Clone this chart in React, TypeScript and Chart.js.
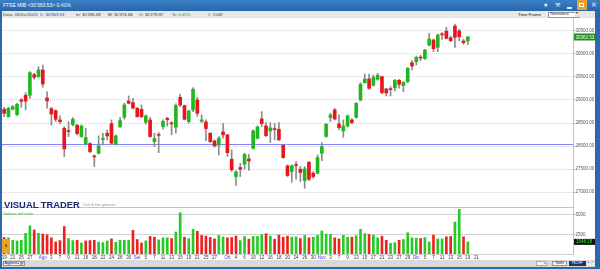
import React, { useEffect, useRef } from "react";
import { Chart, registerables } from "chart.js";

Chart.register(...registerables);

// ---------- DATA ----------
const dates = "19/07 20/07 21/07 24/07 25/07 26/07 27/07 28/07 31/07 01/08 02/08 03/08 04/08 07/08 08/08 09/08 10/08 11/08 14/08 16/08 17/08 18/08 21/08 22/08 23/08 24/08 25/08 28/08 29/08 30/08 31/08 01/09 04/09 05/09 06/09 07/09 08/09 11/09 12/09 13/09 14/09 15/09 18/09 19/09 20/09 21/09 22/09 25/09 26/09 27/09 28/09 29/09 02/10 03/10 04/10 05/10 06/10 09/10 10/10 11/10 12/10 13/10 16/10 17/10 18/10 19/10 20/10 23/10 24/10 25/10 26/10 27/10 30/10 31/10 01/11 02/11 03/11 06/11 07/11 08/11 09/11 10/11 13/11 14/11 15/11 16/11 17/11 20/11 21/11 22/11 23/11 24/11 27/11 28/11 29/11 30/11 01/12 04/12 05/12 06/12 07/12 08/12 11/12 12/12 13/12 14/12 15/12 18/12 19/12".split(" ");
const futureDates = ["20/12", "21/12"];
const totalSlots = 133;

const opens = [
  28797, 28639, 28797, 28682, 29000, 29100, 29100, 29548, 29504, 29649,
  29043, 28812, 28768, 28566, 28386, 28328, 28465, 28451, 28206, 28047,
  28054, 27787, 27845, 28141, 28278, 28487, 28040, 28422, 28624, 28978,
  28942, 28819, 28797, 28516, 28566, 28097, 28256, 28422, 28602, 28494,
  28408, 29057, 28877, 28530, 28783, 29000, 28537, 28523, 28278, 28112,
  28018, 28307, 28242, 27715, 27340, 27535, 27607, 27722, 27953, 28170,
  28588, 28436, 28328, 28372, 28364, 28018, 27571, 27448, 27585, 27499,
  27253, 27650, 27412, 27412, 27845, 28206, 28617, 28783, 28480, 28328,
  28436, 28566, 28624, 29000, 29374, 29454, 29317, 29447, 29504, 29237,
  29237, 29266, 29425, 29310, 29396, 29807, 29829, 29923, 29894, 30190,
  30298, 30139, 30421, 30493, 30348, 30601, 30493, 30276, 30279,
];
const highs = [
  28841, 28841, 28877, 28927, 29035, 29158, 29613, 29576, 29721, 29757,
  29180, 28841, 28783, 28653, 28422, 28530, 28617, 28473, 28458, 28386,
  28076, 27809, 28220, 28278, 28350, 28566, 28242, 28624, 28927, 29086,
  29035, 28841, 28891, 28675, 28624, 28278, 28292, 28566, 28624, 28530,
  28913, 29129, 28891, 28783, 29266, 29057, 28675, 28566, 28292, 28134,
  28206, 28494, 28256, 27917, 27470, 27629, 27845, 27823, 28350, 28436,
  28747, 28509, 28509, 28494, 28509, 28040, 27592, 27592, 27665, 27556,
  27556, 27665, 27448, 27809, 28076, 28494, 28711, 28819, 28675, 28566,
  28675, 28595, 28942, 29374, 29562, 29562, 29540, 29576, 29519, 29252,
  29288, 29447, 29447, 29396, 29706, 29851, 29952, 29966, 30096, 30442,
  30320, 30428, 30457, 30572, 30385, 30644, 30529, 30312, 30375,
];
const lows = [
  28639, 28624, 28783, 28660, 28841, 28783, 29035, 29447, 29490, 29273,
  28819, 28458, 28530, 28480, 27773, 28206, 28436, 28242, 28191, 28025,
  27859, 27556, 27830, 28025, 28134, 28047, 28025, 28400, 28581, 28913,
  28797, 28624, 28624, 28480, 28191, 27989, 27859, 28364, 28436, 28242,
  28278, 28855, 28566, 28494, 28747, 28639, 28509, 28119, 28076, 27975,
  27809, 28170, 27773, 27448, 27145, 27340, 27499, 27470, 27931, 28155,
  28422, 28206, 28076, 28134, 28119, 27737, 27340, 27217, 27282, 27232,
  27087, 27253, 27304, 27398, 27686, 28191, 28530, 28566, 28350, 28191,
  28408, 28480, 28602, 28978, 29360, 29230, 29302, 29425, 29129, 29086,
  29086, 29194, 29252, 29180, 29374, 29649, 29757, 29851, 29880, 30168,
  30045, 30045, 30312, 30320, 30262, 30139, 30284, 30204, 30200,
];
const closes = [
  28711, 28819, 28855, 28905, 28970, 28975, 29591, 29490, 29649, 29346,
  28978, 28696, 28581, 28530, 27939, 28314, 28581, 28271, 28436, 28184,
  27881, 27765, 28004, 28170, 28220, 28061, 28220, 28552, 28891, 28927,
  28826, 28639, 28632, 28653, 28206, 28162, 28234, 28537, 28574, 28480,
  28877, 28891, 28581, 28761, 29230, 28711, 28566, 28379, 28097, 28004,
  28170, 28242, 27859, 27484, 27441, 27499, 27816, 27679, 28328, 28415,
  28487, 28227, 28393, 28357, 28134, 27751, 27362, 27571, 27578, 27427,
  27506, 27282, 27340, 27751, 27989, 28473, 28675, 28588, 28400, 28436,
  28653, 28509, 28927, 29338, 29454, 29252, 29490, 29533, 29158, 29151,
  29223, 29425, 29338, 29382, 29685, 29735, 29923, 29908, 30082, 30320,
  30110, 30406, 30410, 30334, 30284, 30356, 30370, 30240, 30363.53,
];
const volumes = [
  2105, 2061, 1754, 1667, 1754, 2632, 3596, 3070, 2632, 2544,
  2456, 2061, 1535, 1711, 3509, 1974, 1711, 1754, 1404, 1667,
  1711, 1754, 1535, 1447, 1667, 1930, 1491, 1754, 1754, 1754,
  3026, 1842, 1404, 1667, 2237, 2149, 1798, 2061, 2061, 1974,
  2807, 5263, 2149, 1974, 3158, 2895, 2368, 2281, 2105, 1930,
  2368, 2193, 2061, 2105, 2281, 1711, 2237, 1886, 2237, 2237,
  2456, 2588, 2281, 1886, 2412, 2149, 2281, 2149, 2193, 1974,
  2368, 2061, 2149, 2368, 2939, 2544, 2500, 2061, 1930, 2368,
  2149, 2149, 2325, 3158, 2588, 2500, 2412, 2061, 2281, 1754,
  1360, 1447, 1754, 1842, 2719, 2061, 2018, 1974, 2105, 1535,
  2412, 1930, 1930, 2193, 2237, 4079, 5702, 2193, 1548,
];

const xTickIdx = [0, 2, 4, 6, 9, 11, 13, 15, 17, 19, 21, 23, 25, 27, 29, 31, 33, 35, 37, 39, 41, 43, 45, 47, 49, 52, 54, 56, 58, 60, 62, 64, 66, 68, 70, 72, 74, 76, 78, 80, 82, 84, 86, 88, 90, 92, 94, 96, 98, 100, 102, 104, 106, 108, 110];
const xTickText = ["19", "21", "25", "27", "Ago", "3", "7", "9", "11", "16", "18", "22", "24", "28", "30", "Set", "5", "7", "11", "13", "15", "19", "21", "25", "27", "Ott", "4", "6", "10", "12", "16", "18", "20", "24", "26", "30", "Nov", "3", "7", "9", "13", "15", "17", "21", "23", "27", "29", "Dic", "5", "7", "11", "13", "15", "19", "21"];
const monthLabels = ["Ago", "Set", "Ott", "Nov", "Dic"];

const priceTicks = [27000, 27500, 28000, 28500, 29000, 29500, 30000, 30500];
const priceMin = 26680;
const priceMax = 30775;
const volTicks = [2500, 5000];
const volMax = 6000;
const supportLevel = 28045;
const lastVolumeLabel = "1548.18";

// ---------- STYLE ----------
const FONT = '"Liberation Sans", Arial, sans-serif';
const GREEN = "#1fb81f";
const RED = "#e8161c";
const VGREEN = "#22cc22";
const VRED = "#f02020";
const FRAME = "#2b68ad";

export default function App() {
  const priceRef = useRef<HTMLCanvasElement>(null);
  const volRef = useRef<HTMLCanvasElement>(null);

  useEffect(() => {
    const pad = Array.from({ length: totalSlots - dates.length - futureDates.length }, (_, k) => `+${k + 1}`);
    const slots = [...dates, ...futureDates, ...pad];
    const bodyColors = closes.map((c, i) => (c >= opens[i] ? GREEN : RED));
    const volColors = volumes.map((_, i) => (i > 0 && closes[i] >= closes[i - 1] ? VGREEN : VRED));
    const tickFont = { family: FONT, size: 4.5 };

    const fixY = (s: any) => {
      s.width = 27;
      s.paddingTop = 0; s.paddingBottom = 0; s.paddingLeft = 0; s.paddingRight = 0;
    };

    const pricePlugin = {
      id: "priceExtras",
      beforeDatasetsDraw(chart: any) {
        const { ctx, chartArea, scales } = chart;
        const y = Math.round(scales.y.getPixelForValue(supportLevel)) + 0.5;
        ctx.save();
        ctx.setLineDash([]);
        ctx.strokeStyle = "#8282ff";
        ctx.lineWidth = 1;
        ctx.beginPath();
        ctx.moveTo(chartArea.left, y);
        ctx.lineTo(chartArea.right, y);
        ctx.stroke();
        ctx.restore();
      },
      afterDraw(chart: any) {
        const { ctx, chartArea, scales } = chart;
        const last = closes[closes.length - 1];
        const y = scales.y.getPixelForValue(last);
        ctx.save();
        ctx.fillStyle = "#1d8f1d";
        ctx.fillRect(chartArea.right + 1, y - 3.5, 22, 7);
        ctx.fillStyle = "#ffffff";
        ctx.font = `4.5px ${FONT}`;
        ctx.textBaseline = "middle";
        ctx.fillText(last.toFixed(2), chartArea.right + 2.5, y + 0.3);
        ctx.restore();
      },
    };

    const volPlugin = {
      id: "volExtras",
      afterDraw(chart: any) {
        const { ctx, chartArea, scales } = chart;
        const y = scales.y.getPixelForValue(volumes[volumes.length - 1]);
        ctx.save();
        ctx.fillStyle = "#111111";
        ctx.fillRect(chartArea.right + 1, y - 3, 22, 6);
        ctx.fillStyle = "#33ee33";
        ctx.font = `4.5px ${FONT}`;
        ctx.textBaseline = "middle";
        ctx.fillText(lastVolumeLabel, chartArea.right + 3, y + 0.3);
        ctx.restore();
      },
    };

    const priceChart = new Chart(priceRef.current as HTMLCanvasElement, {
      type: "bar",
      data: {
        labels: slots,
        datasets: [
          {
            label: "body",
            data: opens.map((o, i) => [o, closes[i]]) as any,
            backgroundColor: bodyColors,
            barThickness: 3,
            minBarLength: 1,
            grouped: false,
            order: 1,
          } as any,
          {
            label: "wick",
            data: lows.map((l, i) => [l, highs[i]]) as any,
            backgroundColor: "#8c8c8c",
            barThickness: 1,
            grouped: false,
            order: 2,
          } as any,
        ],
      },
      options: {
        animation: false,
        responsive: false,
        devicePixelRatio: 1,
        layout: { padding: { left: 2, right: 0, top: 0, bottom: 0 }, autoPadding: false } as any,
        plugins: { legend: { display: false }, tooltip: { enabled: false } },
        scales: {
          x: { display: false, offset: true, grid: { display: false } },
          y: {
            position: "right",
            min: priceMin,
            max: priceMax,
            afterFit: fixY,
            afterBuildTicks: (s: any) => { s.ticks = priceTicks.map((v) => ({ value: v })); },
            ticks: { font: tickFont, color: "#555", padding: 0.5, callback: (v: any) => Number(v).toFixed(2) },
            grid: { color: "#d6d6d6", tickColor: "#999", tickLength: 2, lineWidth: 1 },
            border: { display: true, color: "#c4c4c4", dash: [1, 1] },
          } as any,
        },
      },
      plugins: [pricePlugin],
    });

    const volChart = new Chart(volRef.current as HTMLCanvasElement, {
      type: "bar",
      data: {
        labels: slots,
        datasets: [
          {
            data: volumes,
            backgroundColor: volColors,
            barThickness: 2,
          } as any,
        ],
      },
      options: {
        animation: false,
        responsive: false,
        devicePixelRatio: 1,
        layout: { padding: { left: 2, right: 0, top: 0, bottom: 0 }, autoPadding: false } as any,
        plugins: { legend: { display: false }, tooltip: { enabled: false } },
        scales: {
          x: {
            offset: true,
            grid: { display: false, drawTicks: false },
            border: { display: true, color: "#d0d0d0" },
            afterFit: (s: any) => {
              s.height = 6;
              s.paddingLeft = 0; s.paddingRight = 0; s.paddingTop = 0; s.paddingBottom = 0;
            },
            ticks: {
              autoSkip: false,
              maxRotation: 0,
              minRotation: 0,
              padding: 1,
              font: tickFont,
              color: (ctx: any) => (ctx.tick && monthLabels.includes(ctx.tick.label) ? "#3535f0" : "#333"),
              callback: (_v: any, index: number) => {
                const k = xTickIdx.indexOf(index);
                return k >= 0 ? xTickText[k] : "";
              },
            },
          } as any,
          y: {
            position: "right",
            min: 0,
            max: volMax,
            afterFit: fixY,
            afterBuildTicks: (s: any) => { s.ticks = volTicks.map((v) => ({ value: v })); },
            ticks: { font: tickFont, color: "#555", padding: 0.5, callback: (v: any) => String(v) },
            grid: { color: "#d2d2d2", tickColor: "#999", tickLength: 2 },
            border: { display: true, color: "#c4c4c4" },
          } as any,
        },
      },
      plugins: [volPlugin],
    });

    return () => {
      priceChart.destroy();
      volChart.destroy();
    };
  }, []);

  const abs = (l: number, t: number, extra: any = {}): any => ({
    position: "absolute", left: l, top: t, whiteSpace: "nowrap", lineHeight: 1, ...extra,
  });

  return (
    <div style={{ position: "fixed", left: 0, top: 0, width: 600, height: 269, overflow: "hidden", background: FRAME, fontFamily: FONT }}>
      {/* title bar */}
      <div style={abs(0, 0, { width: 600, height: 11, background: "linear-gradient(#3b80c6, #2966aa)" })} />
      <div style={abs(3, 3, { fontSize: 5, color: "#ffffff" })}>FTSE MIB &lt;30'363.53&gt; 0.41%</div>
      <div style={abs(543, 1.5, { fontSize: 6, color: "#e8eef8" })}>★</div>
      <div style={abs(555, 1.5, { fontSize: 6, color: "#e8eef8" })}>⚒</div>
      <div style={abs(567, 7, { width: 5, height: 1.5, background: "#e8eef8" })} />
      <div style={abs(577, 0, { width: 10, height: 10, background: "#e3a13a" })} />
      <div style={abs(579, 3, { width: 5, height: 4, border: "1px solid #fff", boxSizing: "border-box" })} />
      <div style={abs(591, 1.5, { fontSize: 6.5, color: "#e8eef8" })}>✕</div>

      {/* info bar */}
      <div style={abs(2, 11, { width: 593, height: 7, background: "#e6e6e6", backgroundImage: "radial-gradient(#f6f6f6 0.6px, transparent 0.8px)", backgroundSize: "3px 3px" })} />
      <div style={abs(3, 12.6, { fontSize: 4.3, color: "#444" })}>Data: 18/Dic/2023</div>
      <div style={abs(40, 12.6, { fontSize: 4.3, color: "#444" })}>C: <span style={{ color: "#2a2ad8" }}>30'363.53</span></div>
      <div style={abs(76, 12.6, { fontSize: 4.3, color: "#333" })}>m: 30'280.69</div>
      <div style={abs(108, 12.6, { fontSize: 4.3, color: "#333" })}>M: 30'374.84</div>
      <div style={abs(139, 12.6, { fontSize: 4.3, color: "#333" })}>O: 30'278.87</div>
      <div style={abs(172, 12.6, { fontSize: 4.3, color: "#444" })}>%: <span style={{ color: "#20a020" }}>0.41%</span></div>
      <div style={abs(208, 12.6, { fontSize: 4.3, color: "#444" })}>#: 1548</div>
      <div style={abs(518, 12.6, { fontSize: 4.3, color: "#222" })}>Time Frame</div>
      <div style={abs(548, 12, { width: 32, height: 5.5, background: "#fff", border: "0.5px solid #999", boxSizing: "border-box" })} />
      <div style={abs(550, 13, { fontSize: 3.8, color: "#222" })}>Giornaliero</div>
      <div style={abs(575, 12.3, { width: 4.6, height: 5, background: "#e0e0e0", fontSize: 3.5, color: "#333", textAlign: "center" })}>▾</div>

      {/* white work area */}
      <div style={abs(2, 18, { width: 593, height: 242, background: "#ffffff" })} />

      {/* charts */}
      <canvas ref={priceRef} width={600} height={189} style={abs(0, 18, { display: "block" })} />
      <canvas ref={volRef} width={600} height={53} style={abs(0, 207, { display: "block" })} />

      {/* overlays */}
      <div style={abs(2, 207, { width: 571, height: 1, background: "#c4c4c4" })} />
      <div style={abs(4, 199.5, { fontSize: 9.4, fontWeight: 700, color: "#1b2870", letterSpacing: 0 })}>VISUAL TRADER</div>
      <div style={abs(83, 203.5, { fontSize: 3.8, color: "#9a9a9a" })}>Dati di fine giornata</div>
      <div style={abs(3.5, 211.5, { fontSize: 4, color: "#33c433" })}>Volume del titolo</div>
      <div style={abs(2, 239, { width: 8, height: 14, background: "#e8a323", color: "#3a2a10", fontSize: 8, fontWeight: 700, textAlign: "center", lineHeight: "14px" })}>›</div>

      {/* bottom bar */}
      <div style={abs(2, 260, { width: 593, height: 6.5, background: "#d9d9d9" })} />
      <div style={abs(2.5, 260.8, { width: 18, height: 5, background: "#f2f2f2", border: "0.5px solid #999", boxSizing: "border-box", fontSize: 3.6, color: "#222", paddingLeft: 1 })}>Aggiorna</div>
      <div style={abs(20.5, 260.8, { width: 4, height: 5, background: "#e6e6e6", border: "0.5px solid #999", boxSizing: "border-box", fontSize: 3, color: "#333", textAlign: "center" })}>▾</div>
      <div style={abs(536, 261, { width: 11, height: 4.5, background: "#f4f4f4", border: "0.5px solid #aaa", boxSizing: "border-box", fontSize: 3, color: "#555", textAlign: "right" })}>▸</div>
      <div style={abs(552, 260.8, { width: 15, height: 5, background: "#f2f2f2", border: "0.5px solid #999", boxSizing: "border-box", fontSize: 3.6, color: "#222", textAlign: "center" })}>Tools</div>
      <div style={abs(568.5, 260.8, { width: 17, height: 5, background: "#1d3566", fontSize: 3.6, color: "#fff", textAlign: "center", lineHeight: "5px" })}>TECFF</div>
      <div style={abs(587, 260.8, { width: 4, height: 5, background: "#eee", fontSize: 3, color: "#333", textAlign: "center" })}>▸</div>
      <div style={abs(591.5, 260.8, { width: 3.5, height: 5, background: "#eee", fontSize: 3, color: "#333", textAlign: "center" })}>×</div>

      {/* frame */}
      <div style={abs(0, 11, { width: 2, height: 258, background: FRAME })} />
      <div style={abs(595, 11, { width: 5, height: 258, background: FRAME, backgroundImage: "radial-gradient(#5b8fd0 0.5px, transparent 0.7px)", backgroundSize: "2px 2px" })} />
      <div style={abs(0, 266.5, { width: 600, height: 3, background: FRAME })} />
    </div>
  );
}
